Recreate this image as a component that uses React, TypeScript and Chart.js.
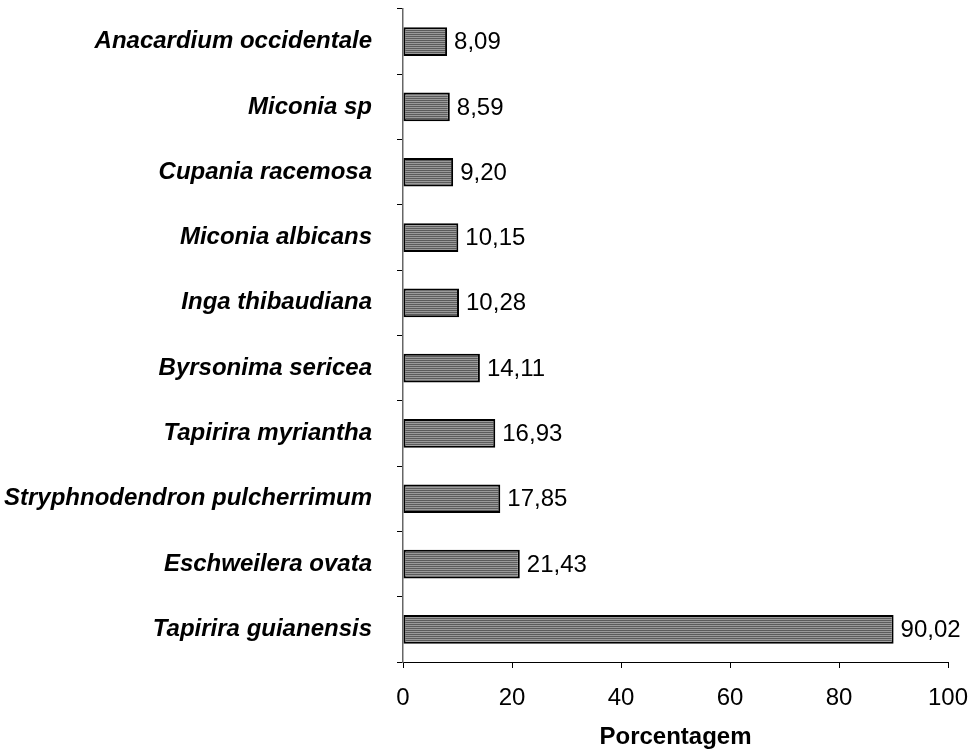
import React, { useEffect, useRef } from "react";
import { Chart, registerables } from "chart.js";

Chart.register(...registerables);

const species = [
  "Anacardium occidentale",
  "Miconia sp",
  "Cupania racemosa",
  "Miconia albicans",
  "Inga thibaudiana",
  "Byrsonima sericea",
  "Tapirira myriantha",
  "Stryphnodendron pulcherrimum",
  "Eschweilera ovata",
  "Tapirira guianensis",
];
const percentages = [8.09, 8.59, 9.2, 10.15, 10.28, 14.11, 16.93, 17.85, 21.43, 90.02];
const xTicks = [0, 20, 40, 60, 80, 100];
const axisTitle = "Porcentagem";

const FONT = "'Liberation Sans', Arial, sans-serif";

function makePattern(): CanvasPattern | string {
  const c = document.createElement("canvas");
  c.width = 4;
  c.height = 2;
  const ctx = c.getContext("2d");
  if (!ctx) return "#7a7a7a";
  ctx.fillStyle = "#5c5c5c";
  ctx.fillRect(0, 0, 4, 1);
  ctx.fillStyle = "#9a9a9a";
  ctx.fillRect(0, 1, 4, 1);
  return ctx.createPattern(c, "repeat") || "#7a7a7a";
}

const valueLabels = {
  id: "valueLabels",
  afterDatasetsDraw(chart: any) {
    const ctx = chart.ctx;
    const meta = chart.getDatasetMeta(0);
    ctx.save();
    ctx.font = `24px ${FONT}`;
    ctx.fillStyle = "#000";
    ctx.textAlign = "left";
    ctx.textBaseline = "middle";
    meta.data.forEach((bar: any, i: number) => {
      const v = percentages[i].toFixed(2).replace(".", ",");
      ctx.fillText(v, bar.x + 7, bar.y + 1);
    });
    ctx.restore();
  },
};

export default function App() {
  const ref = useRef<HTMLCanvasElement | null>(null);
  useEffect(() => {
    if (!ref.current) return;
    const chart = new Chart(ref.current, {
      type: "bar",
      data: {
        labels: species,
        datasets: [
          {
            data: percentages,
            backgroundColor: makePattern() as any,
            borderColor: "#000",
            borderWidth: 2,
            borderSkipped: false,
            barPercentage: 0.44,
            categoryPercentage: 1,
          },
        ],
      },
      options: {
        indexAxis: "y",
        animation: false,
        responsive: false,
        maintainAspectRatio: false,
        layout: { padding: { top: 9, right: 23, left: 0, bottom: 0 } },
        plugins: { legend: { display: false }, tooltip: { enabled: false } },
        scales: {
          x: {
            min: 0,
            max: 100,
            afterBuildTicks: (axis: any) => {
              axis.ticks = xTicks.map((v) => ({ value: v }));
            },
            afterFit: (axis: any) => {
              axis.height = 94;
              axis.paddingLeft = 0;
              axis.paddingRight = 0;
            },
            border: { display: true, color: "#000", width: 1 },
            grid: {
              drawOnChartArea: false,
              drawTicks: true,
              tickLength: 6,
              color: "#000",
            },
            ticks: {
              color: "#000",
              padding: 16,
              maxRotation: 0,
              font: { family: FONT, size: 24 },
            },
            title: {
              display: true,
              text: axisTitle,
              color: "#000",
              padding: { top: 8, bottom: 4 },
              font: { family: FONT, size: 24, weight: "bold" },
            },
          },
          y: {
            afterFit: (axis: any) => {
              axis.width = 403;
              axis.paddingTop = 0;
              axis.paddingBottom = 0;
            },
            border: { display: true, color: "#666", width: 1.5 },
            grid: {
              drawOnChartArea: false,
              drawTicks: true,
              tickLength: 6,
              color: "#000",
              offset: true,
            },
            ticks: {
              color: "#000",
              padding: 25,
              font: {
                family: FONT,
                size: 24,
                weight: "bold",
                style: "italic",
              },
            },
          },
        },
      },
      plugins: [valueLabels],
    });
    return () => chart.destroy();
  }, []);
  return (
    <div style={{ position: "fixed", left: 0, top: 0, width: 971, height: 756, background: "#fff" }}>
      <canvas ref={ref} width={971} height={756} style={{ width: 971, height: 756 }} />
    </div>
  );
}
